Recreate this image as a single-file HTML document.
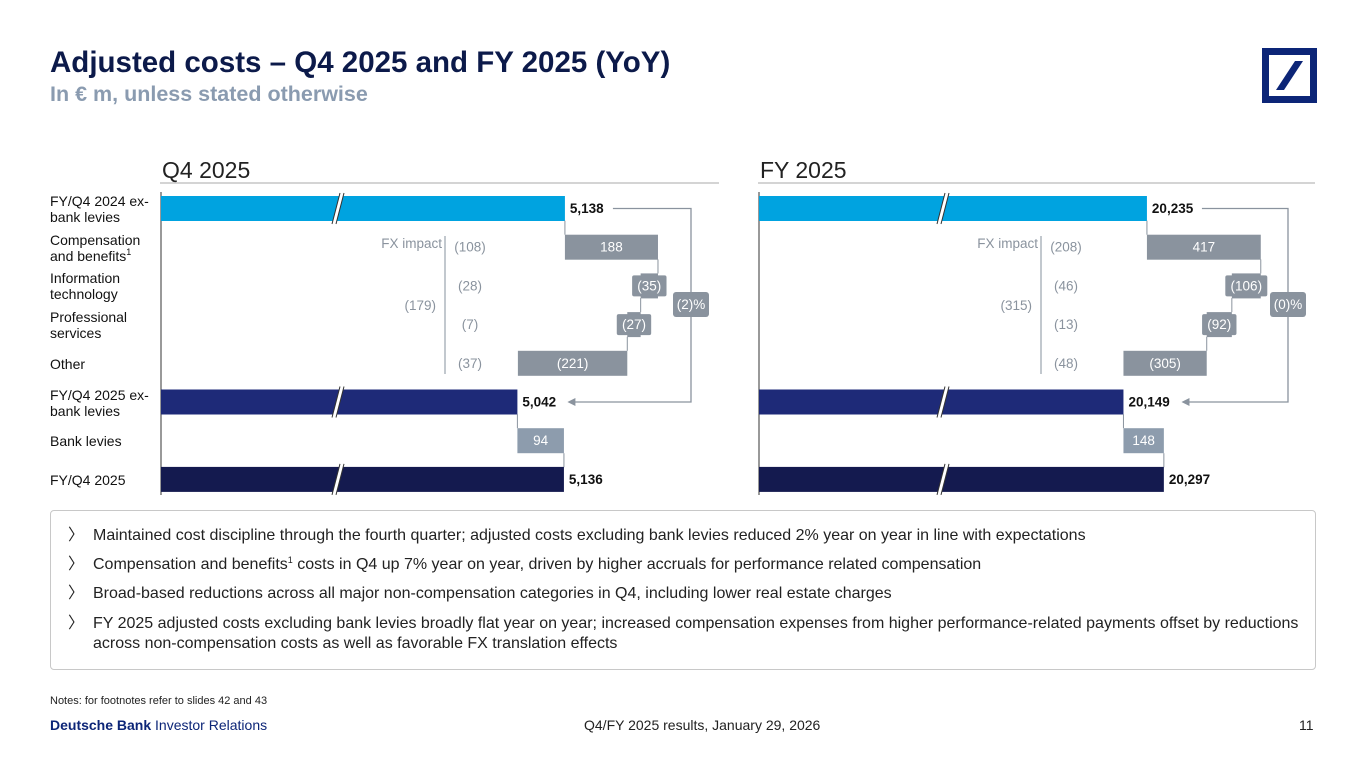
<!DOCTYPE html>
<html><head><meta charset="utf-8">
<style>
body{margin:0;width:1365px;height:768px;background:#fff;font-family:"Liberation Sans",sans-serif;overflow:hidden;position:relative}
.abs{position:absolute;white-space:nowrap}
sup{font-size:9px;line-height:0;vertical-align:6px}
.cat{position:absolute;left:50px;font-size:14px;line-height:16px;color:#111;white-space:nowrap}
.bul{position:absolute;left:68px;font-size:16px;color:#222;line-height:20px}
.bul span{position:absolute;left:25px;top:0;white-space:nowrap;line-height:20px}
</style></head><body>
<div class="abs" style="left:50px;top:46px;font-size:29.5px;font-weight:bold;color:#0c1a4a">Adjusted costs – Q4 2025 and FY 2025 (YoY)</div>
<div class="abs" style="left:50px;top:82px;font-size:21.5px;font-weight:bold;color:#8a9bb0">In € m, unless stated otherwise</div>
<svg class="abs" style="left:1262px;top:48px" width="55" height="55"><rect x="3.5" y="3.5" width="48" height="48" fill="none" stroke="#0c2577" stroke-width="7"/><polygon points="14,42 22,42 41,13 33,13" fill="#0c2577"/></svg>

<div class="cat" style="top:193px">FY/Q4 2024 ex-<br>bank levies</div>
<div class="cat" style="top:232px">Compensation<br>and benefits<sup>1</sup></div>
<div class="cat" style="top:270px">Information<br>technology</div>
<div class="cat" style="top:309px">Professional<br>services</div>
<div class="cat" style="top:356px">Other</div>
<div class="cat" style="top:387px">FY/Q4 2025 ex-<br>bank levies</div>
<div class="cat" style="top:433px">Bank levies</div>
<div class="cat" style="top:472px">FY/Q4 2025</div>

<svg id="chart" class="abs" style="left:0;top:0" width="1365" height="510"></svg>

<div class="abs" style="left:50px;top:510px;width:1264px;height:158px;border:1px solid #c8c8c8;border-radius:4px"></div>
<div class="bul" style="top:526px">〉<span>Maintained cost discipline through the fourth quarter; adjusted costs excluding bank levies reduced 2% year on year in line with expectations</span></div>
<div class="bul" style="top:555px">〉<span>Compensation and benefits<sup>1</sup> costs in Q4 up 7% year on year, driven by higher accruals for performance related compensation</span></div>
<div class="bul" style="top:584px">〉<span>Broad-based reductions across all major non-compensation categories in Q4, including lower real estate charges</span></div>
<div class="bul" style="top:614px">〉<span>FY 2025 adjusted costs excluding bank levies broadly flat year on year; increased compensation expenses from higher performance-related payments offset by reductions<br>across non-compensation costs as well as favorable FX translation effects</span></div>

<div class="abs" style="left:50px;top:695px;font-size:11px;color:#222">Notes: for footnotes refer to slides 42 and 43</div>
<div class="abs" style="left:50px;top:717px;font-size:14px;color:#0c2577"><b>Deutsche Bank</b> Investor Relations</div>
<div class="abs" style="left:584px;top:717px;font-size:14px;color:#222">Q4/FY 2025 results, January 29, 2026</div>
<div class="abs" style="left:1299px;top:717px;font-size:14px;color:#222">11</div>

<script>
const steps = ["FY/Q4 2024 ex-bank levies","Compensation and benefits","Information technology","Professional services","Other","FY/Q4 2025 ex-bank levies","Bank levies","FY/Q4 2025"];
const q4Values = [5138, 188, -35, -27, -221, 5042, 94, 5136];
const fyValues = [20235, 417, -106, -92, -305, 20149, 148, 20297];
const q4Fx = ["(108)","(28)","(7)","(37)"];
const fyFx = ["(208)","(46)","(13)","(48)"];
const q4FxTotal = "(179)";
const fyFxTotal = "(315)";
const q4Change = "(2)%";
const fyChange = "(0)%";

const NS="http://www.w3.org/2000/svg";
const svg=document.getElementById('chart');
function mk(tag,attrs,txt){const e=document.createElementNS(NS,tag);for(const k in attrs)e.setAttribute(k,attrs[k]);if(txt!==undefined)e.textContent=txt;svg.appendChild(e);return e;}
function fmt(v){const s=Math.abs(v).toLocaleString('en-US');return v<0?'('+s+')':s;}
const rowTop=i=>196+i*38.7;
const BH=25;

function panel(p){
  const x=v=>p.x0+(v-p.base)*p.scale;
  let t=mk('text',{x:p.x0+1,y:178,'font-size':23,fill:'#222'},p.title);
  
  
  let l=mk('line',{x1:p.x0-1,x2:p.xEnd,y1:183,y2:183,stroke:'#aaa','stroke-width':1});
  
  
  mk('line',{x1:p.x0,x2:p.x0,y1:192,y2:495,stroke:'#333','stroke-width':1});
  const vals=p.values;
  let run=0;
  const totalCols=['#00a3e0',null,null,null,null,'#1e2a78',null,'#141a4f'];
  for(let i=0;i<vals.length;i++){
    const y=rowTop(i);
    const v=vals[i];
    if(i===0||i===5||i===7){
      run=v;
      const r=mk('rect',{x:p.x0,y:y,width:x(v)-p.x0,height:BH,fill:totalCols[i]});
      
      
      const bx=p.x0+p.brk;
      mk('polygon',{points:`${bx-4},${y+BH+3} ${bx},${y+BH+3} ${bx+8},${y-3} ${bx+4},${y-3}`,fill:'#fff'});
      mk('line',{x1:bx-4,y1:y+BH+3,x2:bx+4,y2:y-3,stroke:'#333','stroke-width':1});
      mk('line',{x1:bx,y1:y+BH+3,x2:bx+8,y2:y-3,stroke:'#333','stroke-width':1});
      const lt=mk('text',{x:x(v)+5,y:y+17,'font-size':13.5,'font-weight':'bold',fill:'#111'},fmt(v));
      
      
    } else {
      const a=run,b=run+v;
      const lo=Math.min(a,b),hi=Math.max(a,b);
      const col=i===6?'#8d9cad':'#8a939e';
      mk('line',{x1:x(a),x2:x(a),y1:y-14,y2:y,stroke:'#8a939e','stroke-width':1});
      const r=mk('rect',{x:x(lo),y:y,width:x(hi)-x(lo),height:BH,fill:col});
      
      
      const cx=(x(lo)+x(hi))/2;
      const lab=fmt(v);
      const tw=lab.length*7.6;
      if(x(hi)-x(lo)<tw+4){mk('rect',{x:cx-tw/2-2,y:y+2,width:tw+4,height:BH-4,fill:col,rx:2});}
      const lt=mk('text',{x:cx,y:y+17,'font-size':13.5,fill:'#fff','text-anchor':'middle'},lab);
      
      
      if(i===6) mk('line',{x1:x(b),x2:x(b),y1:y+BH,y2:y+BH+14,stroke:'#8a939e','stroke-width':1});
      run=b;
    }
  }
  const fl=p.fxLine;
  mk('line',{x1:fl,x2:fl,y1:236,y2:374,stroke:'#9aa3ad','stroke-width':1.2});
  const fxt=mk('text',{x:fl-3,y:248,'font-size':13.5,fill:'#8a939e','text-anchor':'end'},'FX impact');
  
  
  mk('text',{x:fl-9,y:310,'font-size':13.5,fill:'#8a939e','text-anchor':'end'},p.fxTotal);
  for(let k=0;k<p.fx.length;k++){
    const e=mk('text',{x:fl+25,y:rowTop(k+1)+17,'font-size':13.5,fill:'#8a939e','text-anchor':'middle'},p.fx[k]);
    
    
  }
  const y0=rowTop(0)+12.5,y1=rowTop(5)+12.5;
  const sx=x(vals[0])+ (p.key==='q4'?48:55);
  const ex=x(vals[5])+ (p.key==='q4'?50:58);
  mk('polyline',{points:`${sx},${y0} ${p.brX},${y0} ${p.brX},${y1} ${ex+4},${y1}`,fill:'none',stroke:'#8a939e','stroke-width':1.3});
  mk('polygon',{points:`${ex},${y1} ${ex+8},${y1-4} ${ex+8},${y1+4}`,fill:'#8a939e'});
  mk('rect',{x:p.brX-18,y:292,width:36,height:25,rx:3,fill:'#8a939e'});
  const ct=mk('text',{x:p.brX,y:309,'font-size':13.5,fill:'#fff','text-anchor':'middle'},p.change);
  
  
}
panel({key:'q4',title:'Q4 2025',x0:161,xEnd:719,base:4322,scale:0.495,brk:175,values:q4Values,fx:q4Fx,fxTotal:q4FxTotal,fxLine:445,brX:691,change:q4Change});
panel({key:'fy',title:'FY 2025',x0:759,xEnd:1315,base:18814,scale:0.273,brk:182,values:fyValues,fx:fyFx,fxTotal:fyFxTotal,fxLine:1041,brX:1288,change:fyChange});
</script>
</body></html>
